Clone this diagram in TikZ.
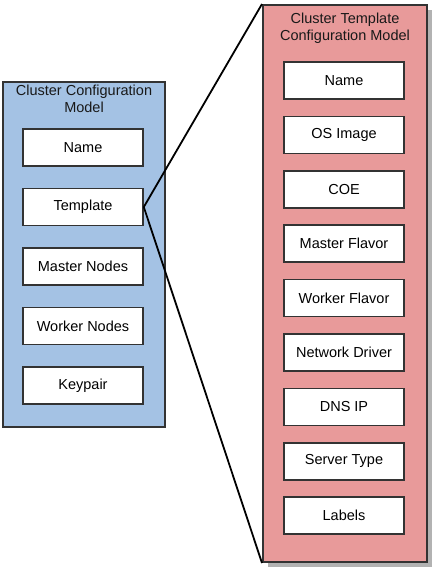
\documentclass[tikz,border=0pt]{standalone}
\usepackage{fontspec}
\setmainfont{Liberation Sans}
\definecolor{clusterblue}{HTML}{A4C2E4}
\definecolor{templatepink}{HTML}{E89A9A}
\definecolor{edgegray}{HTML}{333333}

\begin{document}
\begin{tikzpicture}[x=1pt, y=-1pt,
        every node/.style={font=\fontsize{14.5}{17}\selectfont},
        model/.style={draw=edgegray, line width=2pt, inner sep=0pt},
        field/.style={draw=edgegray, line width=1.6pt, fill=white, inner sep=0pt,
                      minimum width=120pt, minimum height=37pt},
        heading/.style={align=center, text=black!90}]
        \useasboundingbox (0,0) rectangle (436,576);
        %
        \node [model, fill=clusterblue, minimum width=162pt, minimum height=345pt] (cluster) at (84,254.5) {};
        \node [heading] (clustertitle) at (84,98.5) {Cluster Configuration\\Model};
        %
        \node [field] (name) at (83,147.5) {Name};
        \node [field] (tmpl) at (83,207) {Template};
        \node [field] (masters) at (83,266.5) {Master Nodes};
        \node [field] (workers) at (83,326) {Worker Nodes};
        \node [field] (keypair) at (83,385.5) {Keypair};
        %
        \fill [black!30] (268,10) rectangle (432,567);
        \node [model, fill=templatepink, minimum width=164pt, minimum height=557pt] (template) at (345,283.5) {};
        \node [heading] (templatetitle) at (345,28.5) {Cluster Template\\Configuration Model};
        %
        \node [field] (tname) at (344,80.5) {Name};
        \node [field] (osimage) at (344,134.9) {OS Image};
        \node [field] (coe) at (344,189.3) {COE};
        \node [field] (masterflavor) at (344,243.7) {Master Flavor};
        \node [field] (workerflavor) at (344,298.1) {Worker Flavor};
        \node [field] (netdriver) at (344,352.5) {Network Driver};
        \node [field] (dnsip) at (344,406.9) {DNS IP};
        \node [field] (servertype) at (344,461.3) {Server Type};
        \node [field] (labels) at (344,515.7) {Labels};
        %
        \draw [line width=1.8pt] (tmpl.east) -- (template.north west);
        \draw [line width=1.8pt] (tmpl.east) -- (template.south west);
      \end{tikzpicture}
\end{document}
